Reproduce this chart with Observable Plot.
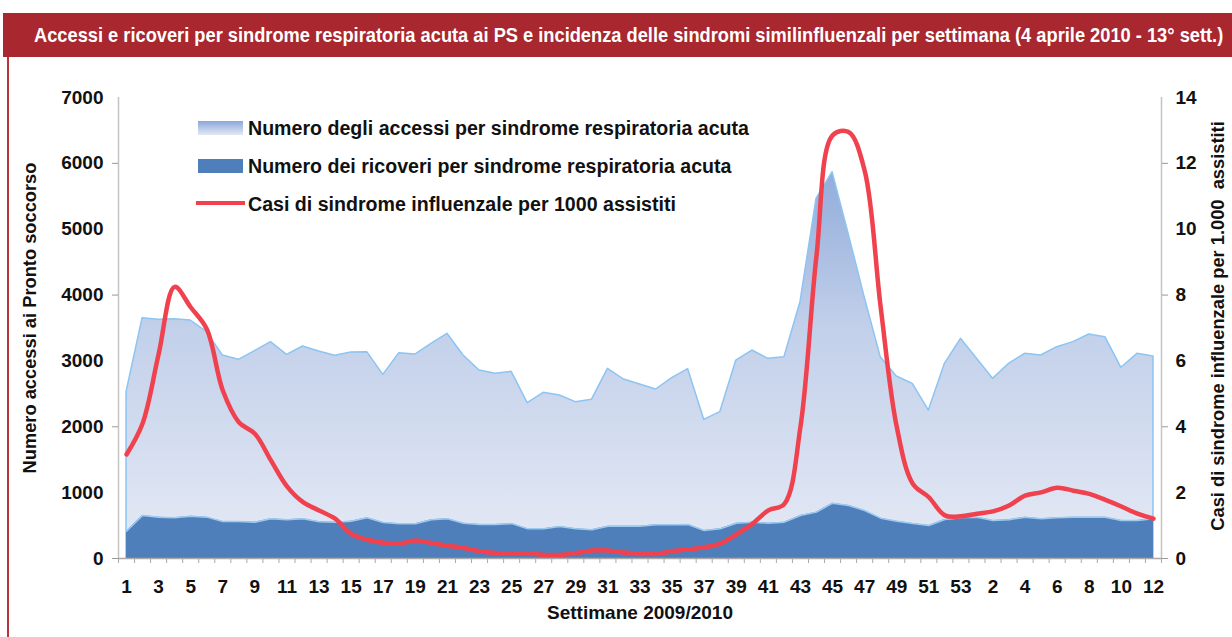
<!DOCTYPE html>
<html>
<head>
<meta charset="utf-8">
<script src="https://cdn.jsdelivr.net/npm/d3@7"></script>
<script src="https://cdn.jsdelivr.net/npm/@observablehq/plot@0.6"></script>
<style>
  html, body { margin: 0; padding: 0; background: #fff; }
  #wrap { position: relative; width: 1232px; height: 637px; overflow: hidden; font-family: "Liberation Sans", Arial, sans-serif; }
  #titlebar { position: absolute; left: 3px; top: 13px; width: 1229px; height: 44px; background: #a9272f; }
  #leftline { position: absolute; left: 7px; top: 57px; width: 1.5px; height: 580px; background: #b8343c; }
  #chart { position: absolute; left: 0; top: 60px; }
  .lg { position: absolute; }
  .lgt { position: absolute; left: 248px; font-size: 19.6px; font-weight: bold; color: #111; line-height: 20px; white-space: nowrap; }
</style>
</head>
<body>
<div id="wrap">
  <div id="titlebar">
    <svg width="1229" height="44">
      <text id="ttl" x="0" y="0" transform="translate(31,28.5)" fill="#fff" font-family="'Liberation Sans', Arial, sans-serif" font-weight="bold" font-size="20">Accessi e ricoveri per sindrome respiratoria acuta ai PS e incidenza delle sindromi similinfluenzali per settimana (4 aprile 2010 - 13° sett.)</text>
    </svg>
  </div>
  <div id="leftline"></div>
  <div id="chart"></div>
  <div class="lg" style="left:198px; top:121px; width:45px; height:14px; background:linear-gradient(#8aa6da,#e4e9f4);"></div>
  <div class="lg" style="left:198px; top:159px; width:45px; height:14px; background:#4f7fba;"></div>
  <div class="lg" style="left:196px; top:201px; width:49px; height:4px; background:#f0414f;"></div>
  <div class="lgt" id="l1" style="top:118px;">Numero degli accessi per sindrome respiratoria acuta</div>
  <div class="lgt" id="l2" style="top:156px;">Numero dei ricoveri per sindrome respiratoria acuta</div>
  <div class="lgt" id="l3" style="top:194px;">Casi di sindrome influenzale per 1000 assistiti</div>
</div>
<script>
// Week labels: weeks 1-53 of 2009, then weeks 1-12 of 2010
const weekLabels = [
  "1","2","3","4","5","6","7","8","9","10","11","12","13","14","15","16","17","18","19","20",
  "21","22","23","24","25","26","27","28","29","30","31","32","33","34","35","36","37","38","39","40",
  "41","42","43","44","45","46","47","48","49","50","51","52","53",
  "1","2","3","4","5","6","7","8","9","10","11","12"
];
// Numero degli accessi per sindrome respiratoria acuta
const accessi = [
  2525, 3649, 3624, 3634, 3614, 3440, 3082, 3017, 3148, 3285, 3093, 3219, 3143, 3078, 3128, 3133, 2789, 3118, 3097, 3260,
  3412, 3082, 2855, 2804, 2834, 2359, 2516, 2475, 2374, 2409, 2880, 2718, 2642, 2566, 2738, 2875, 2106, 2222, 3006, 3158,
  3032, 3057, 3892, 5462, 5866, 4930, 3968, 3057, 2763, 2652, 2247, 2956, 3336,
  3032, 2728, 2956, 3108, 3082, 3209, 3285, 3401, 3361, 2896, 3108, 3067
];
// Numero dei ricoveri per sindrome respiratoria acuta
const ricoveri = [
  415, 653, 628, 618, 643, 628, 562, 562, 552, 603, 587, 603, 557, 552, 567, 618, 546, 526, 526, 587,
  603, 536, 516, 516, 530, 450, 450, 486, 450, 435, 491, 491, 491, 511, 511, 516, 425, 450, 536, 552,
  536, 552, 653, 704, 840, 805, 729, 612, 567, 530, 501, 592, 618,
  628, 577, 587, 628, 603, 618, 628, 628, 628, 577, 577, 603
];
// Casi di sindrome influenzale per 1000 assistiti (right axis)
const ili = [
  3.16, 4.10, 6.20, 8.25, 7.63, 6.97, 5.10, 4.14, 3.79, 2.98, 2.19, 1.71, 1.46, 1.21, 0.75, 0.57, 0.48, 0.45, 0.55, 0.47,
  0.39, 0.32, 0.22, 0.17, 0.16, 0.16, 0.11, 0.11, 0.16, 0.24, 0.24, 0.18, 0.14, 0.14, 0.22, 0.27, 0.34, 0.45, 0.73, 1.05,
  1.46, 1.66, 4.0, 9.2, 12.85, 12.95, 11.78, 7.63, 4.0, 2.27, 1.86, 1.31, 1.28,
  1.36, 1.43, 1.61, 1.91, 2.01, 2.15, 2.06, 1.96, 1.78, 1.58, 1.36, 1.21
];
const leftTicks = [0, 1000, 2000, 3000, 4000, 5000, 6000, 7000];
const leftTickMarks = [0, 2000, 4000, 6000];
const rightTicks = [0, 2, 4, 6, 8, 10, 12, 14];
const rightTickMarks = [0, 4, 8, 12];
const ratio = 500; // 14 on right axis = 7000 on left axis

const rows = weekLabels.map((w, i) => ({i, w, acc: accessi[i], ric: ricoveri[i], ili: ili[i]}));

const defs = () => {
  const d = d3.create("svg:defs");
  const g = d.append("linearGradient").attr("id", "accGrad")
    .attr("gradientUnits", "userSpaceOnUse").attr("x1", 0).attr("x2", 0).attr("y1", 37).attr("y2", 498);
  g.append("stop").attr("offset", "0%").attr("stop-color", "#7b9bd3");
  g.append("stop").attr("offset", "50%").attr("stop-color", "#c2d0ea");
  g.append("stop").attr("offset", "100%").attr("stop-color", "#e6eaf5");
  return d.node();
};

const chart = Plot.plot({
  width: 1232,
  height: 577,
  marginTop: 37,
  marginBottom: 79,
  marginLeft: 118,
  marginRight: 71,
  style: {fontFamily: "'Liberation Sans', Arial, sans-serif", fontSize: "19px", fontWeight: "bold", color: "#111", background: "transparent"},
  x: {type: "linear", domain: [-0.5, weekLabels.length - 0.5], axis: null},
  y: {domain: [0, 7000], axis: null},
  marks: [
    defs,
    Plot.areaY(rows, {x: "i", y: "acc", fill: "url(#accGrad)", stroke: "#8cc4f2", strokeWidth: 1.5}),
    Plot.areaY(rows, {x: "i", y: "ric", fill: "#4f7fba"}),
    Plot.lineY(rows, {x: "i", y: "ric", stroke: "#9ccbf2", strokeWidth: 1.5}),
    Plot.lineY(rows, {x: "i", y: d => d.ili * ratio, stroke: "#f0414f", strokeWidth: 4.5, curve: "catmull-rom"}),
    // axis lines
    Plot.ruleX([-0.5], {y1: 0, y2: 7000, stroke: "#c4c4c4", strokeWidth: 1.5}),
    Plot.ruleX([weekLabels.length - 0.5], {y1: 0, y2: 7000, stroke: "#c4c4c4", strokeWidth: 1.5}),
    Plot.ruleY([0], {x1: -0.5, x2: weekLabels.length - 0.5, stroke: "#a8a8a8", strokeWidth: 1.5}),
    // left axis
    Plot.axisY({anchor: "left", ticks: leftTicks, tickFormat: d => String(d), tickSize: 0, tickPadding: 15, label: null}),
    Plot.axisY({anchor: "left", ticks: leftTickMarks, tickSize: 6, tickFormat: () => "", stroke: "#999", label: null}),
    // right axis
    Plot.axisY({anchor: "right", ticks: rightTicks.map(v => v * ratio), tickFormat: d => String(d / ratio), tickSize: 0, tickPadding: 14, label: null}),
    Plot.axisY({anchor: "right", ticks: rightTickMarks.map(v => v * ratio), tickSize: 6, tickFormat: () => "", stroke: "#999", label: null}),
    // x axis
    Plot.axisX({ticks: d3.range(0, weekLabels.length + 1).map(i => i - 0.5), tickSize: 5, tickFormat: () => "", stroke: "#aaa", label: null}),
    Plot.axisX({ticks: d3.range(0, weekLabels.length, 2), tickFormat: i => weekLabels[i], tickSize: 0, tickPadding: 21, label: null}),
    // axis titles
    Plot.text(["Numero accessi ai Pronto soccorso"], {frameAnchor: "left", textAnchor: "middle", lineAnchor: "middle", text: d => d, rotate: -90, dx: -88, dy: -10, fontSize: 18.3, fill: "#111"}),
    Plot.text(["Casi di sindrome influenzale per 1.000  assistiti"], {frameAnchor: "right", textAnchor: "middle", lineAnchor: "middle", text: d => d, rotate: -90, dx: 57, dy: -2, fontSize: 18.3, fill: "#111"}),
    Plot.text(["Settimane 2009/2010"], {frameAnchor: "bottom", textAnchor: "middle", lineAnchor: "middle", text: d => d, dy: 54, fontSize: 19, fill: "#111"})
  ]
});
document.getElementById("chart").appendChild(chart);

// fit the condensed title into the bar width
const ttl = document.getElementById("ttl");
const len = ttl.getComputedTextLength();
const sx = 1190 / len;
ttl.setAttribute("transform", `translate(31,28.5) scale(${sx},1)`);
</script>
</body>
</html>
